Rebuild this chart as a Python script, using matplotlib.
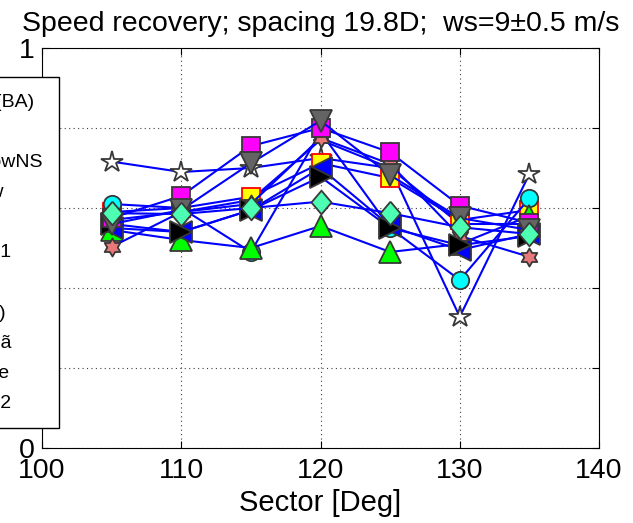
import numpy as np
import matplotlib.pyplot as plt
from matplotlib.path import Path

plt.rcParams['font.family'] = ['Liberation Sans', 'DejaVu Sans']

# wind direction sectors [deg]
sectors = [105, 110, 115, 120, 125, 130, 135]

# series in drawing order (last drawn ends up on top)
labels = ["EllipSys (BA)", "Larsen", "CRES-flowNS", "UPM-flow", "WAsP",
          "ECN-2001", "Park", "FUGA (N)", "Ris\u00f8-Fug\u00e3", "EV-Ainslie",
          "ECN-2002"]

plus_vals    = [0.57, 0.59, 0.62, 0.77, 0.70, 0.56, 0.56]
star_vals    = [0.716, 0.69, 0.70, 0.725, 0.70, 0.328, 0.685]
ysq_vals     = [0.59, 0.60, 0.628, 0.712, 0.675, 0.57, 0.595]
circ_vals    = [0.61, 0.60, 0.49, 0.79, 0.55, 0.42, 0.624]
tup_vals     = [0.545, 0.52, 0.50, 0.555, 0.49, 0.51, 0.58]
hexa_vals    = [0.503, 0.59, 0.61, 0.775, 0.71, 0.53, 0.478]
tleft_vals   = [0.55, 0.54, 0.595, 0.70, 0.555, 0.495, 0.535]
tright_vals  = [0.56, 0.54, 0.595, 0.678, 0.55, 0.507, 0.53]
msq_vals     = [0.575, 0.63, 0.755, 0.80, 0.739, 0.606, 0.563]
tdown_vals   = [0.56, 0.595, 0.712, 0.818, 0.682, 0.575, 0.545]
diam_vals    = [0.587, 0.585, 0.60, 0.616, 0.587, 0.552, 0.535]

diamond = [(0, 1), (0.85, 0), (0, -1), (-0.85, 0), (0, 1)]
hexagram = Path.unit_regular_star(6, 0.58)

edge = '#383838'
styles = [
    (plus_vals,   dict(marker='+', ms=12, mfc='none', mec=edge)),
    (star_vals,   dict(marker='*', ms=16, mfc='white', mec=edge)),
    (ysq_vals,    dict(marker='s', ms=13, mfc='#ffff00', mec='#ff0000')),
    (circ_vals,   dict(marker='o', ms=12.5, mfc='#00ffff', mec=edge)),
    (tup_vals,    dict(marker='^', ms=16.5, mfc='#00ff00', mec=edge)),
    (hexa_vals,   dict(marker=hexagram, ms=13, mfc='#e8787a', mec=edge)),
    (tleft_vals,  dict(marker='<', ms=16.5, mfc='#0000ff', mec=edge)),
    (tright_vals, dict(marker='>', ms=16.5, mfc='#000000', mec=edge)),
    (msq_vals,    dict(marker='s', ms=13, mfc='#ff00ff', mec=edge)),
    (tdown_vals,  dict(marker='v', ms=16.5, mfc='#646464', mec=edge)),
    (diam_vals,   dict(marker=diamond, ms=17, mfc='#4dffb3', mec=edge)),
]

fig = plt.figure(figsize=(6.33, 5.23), dpi=100)
ax = fig.add_axes([42 / 633, 75 / 523, 557 / 633, 400 / 523])

handles = []
for (vals, st), lab in zip(styles, labels):
    h, = ax.plot(sectors, vals, color='#0000ff', lw=1.5, mew=1.3,
                 label=lab, **st)
    handles.append(h)

ax.set_xlim(100, 140)
ax.set_ylim(0, 1)
ax.set_xticks([100, 110, 120, 130, 140])
ax.set_yticks([0, 0.2, 0.4, 0.6, 0.8, 1.0])
ax.set_yticklabels(['0', '', '', '', '', '1'])
ax.tick_params(direction='in', length=5, top=True, right=True,
               labelsize=20.5, width=0.8)
ax.tick_params(axis='x', pad=7)
ax.tick_params(axis='y', pad=5)
ax.grid(True, linestyle=(0, (1, 3)), color='#404040', lw=0.8)
for s in ax.spines.values():
    s.set_linewidth(0.8)

ax.set_title('Speed recovery; spacing 19.8D;  ws=9\u00b10.5 m/s',
             fontsize=20.5, pad=12)
ax.set_xlabel('Sector [Deg]', fontsize=21, labelpad=4)

fig.legend(handles, labels, loc='upper right',
           bbox_to_anchor=(59 / 633, 1 - 77 / 523),
           bbox_transform=fig.transFigure, fontsize=14,
           fancybox=False, edgecolor='black', framealpha=1,
           borderpad=0.85, borderaxespad=0, labelspacing=0.64,
           handlelength=2)

fig.savefig('out.png', dpi=100)
